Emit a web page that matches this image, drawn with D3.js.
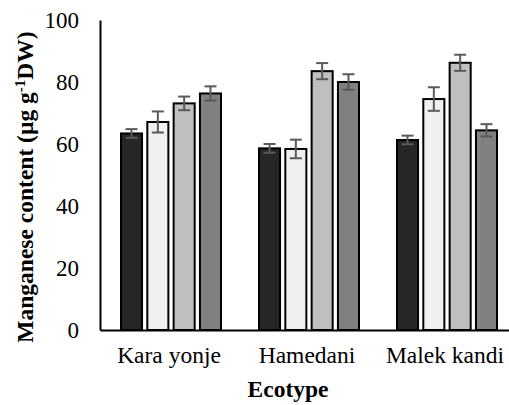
<!DOCTYPE html>
<html>
<head>
<meta charset="utf-8">
<script src="https://cdn.jsdelivr.net/npm/d3@7"></script>
<style>
  body { margin: 0; background: #fff; }
  svg text { font-family: "Liberation Serif", "Times New Roman", serif !important; }
</style>
</head>
<body>
<svg id="chart" width="509" height="405"></svg>
<script>
const ecotypes = ["Kara yonje", "Hamedani", "Malek kandi"];
const series = ["s1", "s2", "s3", "s4"];
const values = [
  [63.4, 67.1, 73.1, 76.3],
  [58.6, 58.4, 83.5, 80.0],
  [61.3, 74.5, 86.2, 64.4]
];
const errors = [
  [1.4, 3.4, 2.2, 2.3],
  [1.4, 3.0, 2.6, 2.5],
  [1.4, 3.8, 2.6, 2.0]
];
const yTicks = [0, 20, 40, 60, 80, 100];
const fills = ["#262626", "#f0f0f0", "#bfbfbf", "#808080"];

const serif = "\"Liberation Serif\", \"Times New Roman\", serif";
const svg = d3.select("#chart");

const x = d3.scaleBand()
    .domain(ecotypes)
    .range([100, 514]);

const xs = d3.scaleBand()
    .domain(series)
    .range([21, 121])
    .paddingInner(0.2);

const y = d3.scaleLinear()
    .domain([0, 100])
    .range([330, 20]);

// y axis
svg.append("g")
    .attr("transform", "translate(100,0)")
    .call(d3.axisLeft(y).tickValues(yTicks).tickSize(0).tickPadding(21))
    .call(g => g.select(".domain").attr("stroke", "#000").attr("stroke-width", 2))
    .call(g => g.selectAll("text")
        .attr("fill", "#000")
        .style("font-family", serif)
        .style("font-size", "23px"));

const rows = [];
ecotypes.forEach((e, i) => {
    series.forEach((s, j) => {
        rows.push({eco: e, s: s, v: values[i][j], err: errors[i][j], j: j});
    });
});

svg.selectAll("rect.bar")
    .data(rows)
    .enter()
    .append("rect")
    .attr("class", "bar")
    .attr("x", d => x(d.eco) + xs(d.s))
    .attr("width", xs.bandwidth())
    .attr("y", d => y(d.v))
    .attr("height", d => y(0) - y(d.v))
    .attr("fill", d => fills[d.j])
    .attr("stroke", "#000")
    .attr("stroke-width", 2);

// error bars
const eb = svg.append("g")
    .attr("stroke", "#5a5a5a")
    .attr("stroke-width", 2);

rows.forEach(d => {
    const cx = x(d.eco) + xs(d.s) + xs.bandwidth() / 2;
    eb.append("line")
        .attr("x1", cx).attr("x2", cx)
        .attr("y1", y(d.v + d.err)).attr("y2", y(d.v - d.err));
    [d.v + d.err, d.v - d.err].forEach(t => {
        eb.append("line")
            .attr("x1", cx - 6).attr("x2", cx + 6)
            .attr("y1", y(t)).attr("y2", y(t));
    });
});

// x axis
svg.append("g")
    .attr("transform", "translate(0,330)")
    .call(d3.axisBottom(x).tickSize(0).tickPadding(16))
    .call(g => g.select(".domain").attr("stroke", "#000").attr("stroke-width", 2))
    .call(g => g.selectAll("text")
        .attr("fill", "#000")
        .style("font-family", serif)
        .style("font-size", "23.5px"));

svg.append("text")
    .attr("x", 288)
    .attr("y", 397)
    .attr("text-anchor", "middle")
    .style("font-family", serif)
    .style("font-size", "23.5px")
    .style("font-weight", "bold")
    .text("Ecotype");

const ytitle = svg.append("text")
    .attr("transform", "translate(33,187) rotate(-90)")
    .attr("text-anchor", "middle")
    .style("font-family", serif)
    .style("font-size", "23.5px")
    .style("font-weight", "bold");
ytitle.append("tspan").text("Manganese content (µg g");
ytitle.append("tspan").attr("dy", -8).style("font-size", "15px").text("-1");
ytitle.append("tspan").attr("dy", 8).text("DW)");
</script>
</body>
</html>
